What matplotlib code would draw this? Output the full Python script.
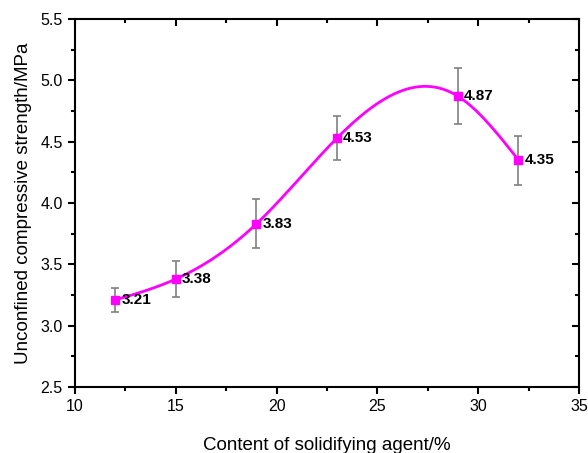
import numpy as np
import matplotlib
matplotlib.use("Agg")
import matplotlib.pyplot as plt
from matplotlib.ticker import MultipleLocator

content = [12, 15, 19, 23, 29, 32]
strength = [3.21, 3.38, 3.83, 4.53, 4.87, 4.35]
err = [0.10, 0.15, 0.20, 0.18, 0.23, 0.20]
labels = ["3.21", "3.38", "3.83", "4.53", "4.87", "4.35"]


def natural_spline(x, y, xs):
    # plain natural cubic spline, no scipy around
    x = np.asarray(x, float)
    y = np.asarray(y, float)
    n = len(x)
    h = np.diff(x)
    A = np.zeros((n, n))
    b = np.zeros(n)
    A[0, 0] = A[-1, -1] = 1
    for i in range(1, n - 1):
        A[i, i - 1] = h[i - 1]
        A[i, i] = 2 * (h[i - 1] + h[i])
        A[i, i + 1] = h[i]
        b[i] = 3 * ((y[i + 1] - y[i]) / h[i] - (y[i] - y[i - 1]) / h[i - 1])
    c = np.linalg.solve(A, b)
    out = np.empty_like(xs)
    for k, xv in enumerate(xs):
        i = min(max(np.searchsorted(x, xv) - 1, 0), n - 2)
        bb = (y[i + 1] - y[i]) / h[i] - h[i] * (2 * c[i] + c[i + 1]) / 3
        d = (c[i + 1] - c[i]) / (3 * h[i])
        t = xv - x[i]
        out[k] = y[i] + bb * t + c[i] * t ** 2 + d * t ** 3
    return out


plt.rcParams['font.family'] = ['Liberation Sans', 'DejaVu Sans']

fig = plt.figure(figsize=(5.88, 4.53), dpi=100)
ax = fig.add_axes([0.1276, 0.1457, 0.857, 0.8124])

xs = np.linspace(content[0], content[-1], 300)
ax.plot(xs, natural_spline(content, strength, xs), color='#FF00FF', lw=2, zorder=2)
ax.errorbar(content, strength, yerr=err, fmt='none', ecolor='#808080',
            elinewidth=1.2, capsize=3, capthick=1.2, zorder=3)
ax.plot(content, strength, 's', color='#FF00FF', ms=6, zorder=4)

for x, y, t in zip(content, strength, labels):
    ax.text(x + 0.3, y, t, fontsize=11, fontweight='bold', va='center', ha='left')

ax.set_xlim(10, 35)
ax.set_ylim(2.5, 5.5)
ax.xaxis.set_major_locator(MultipleLocator(5))
ax.xaxis.set_minor_locator(MultipleLocator(2.5))
ax.yaxis.set_major_locator(MultipleLocator(0.5))
ax.yaxis.set_minor_locator(MultipleLocator(0.25))
ax.yaxis.set_major_formatter(matplotlib.ticker.FormatStrFormatter('%.1f'))

for s in ax.spines.values():
    s.set_linewidth(1.5)
ax.tick_params(which='both', direction='out', width=1.5, labelsize=11.5)
ax.tick_params(which='major', length=5, pad=4)
ax.tick_params(which='minor', length=3)
ax.tick_params(which='both', top=True, right=True)
# the mirrored ticks on top/right go inward
for t in ax.xaxis.get_ticklines(minor=False)[1::2] + ax.xaxis.get_ticklines(minor=True)[1::2]:
    t.set_marker(matplotlib.lines.TICKDOWN)
for t in ax.yaxis.get_ticklines(minor=False)[1::2] + ax.yaxis.get_ticklines(minor=True)[1::2]:
    t.set_marker(matplotlib.lines.TICKLEFT)

ax.set_xlabel('Content of solidifying agent/%', fontsize=13.5, labelpad=16)
ax.set_ylabel('Unconfined compressive strength/MPa', fontsize=13.5, labelpad=6)

fig.savefig('out.png', dpi=100)
